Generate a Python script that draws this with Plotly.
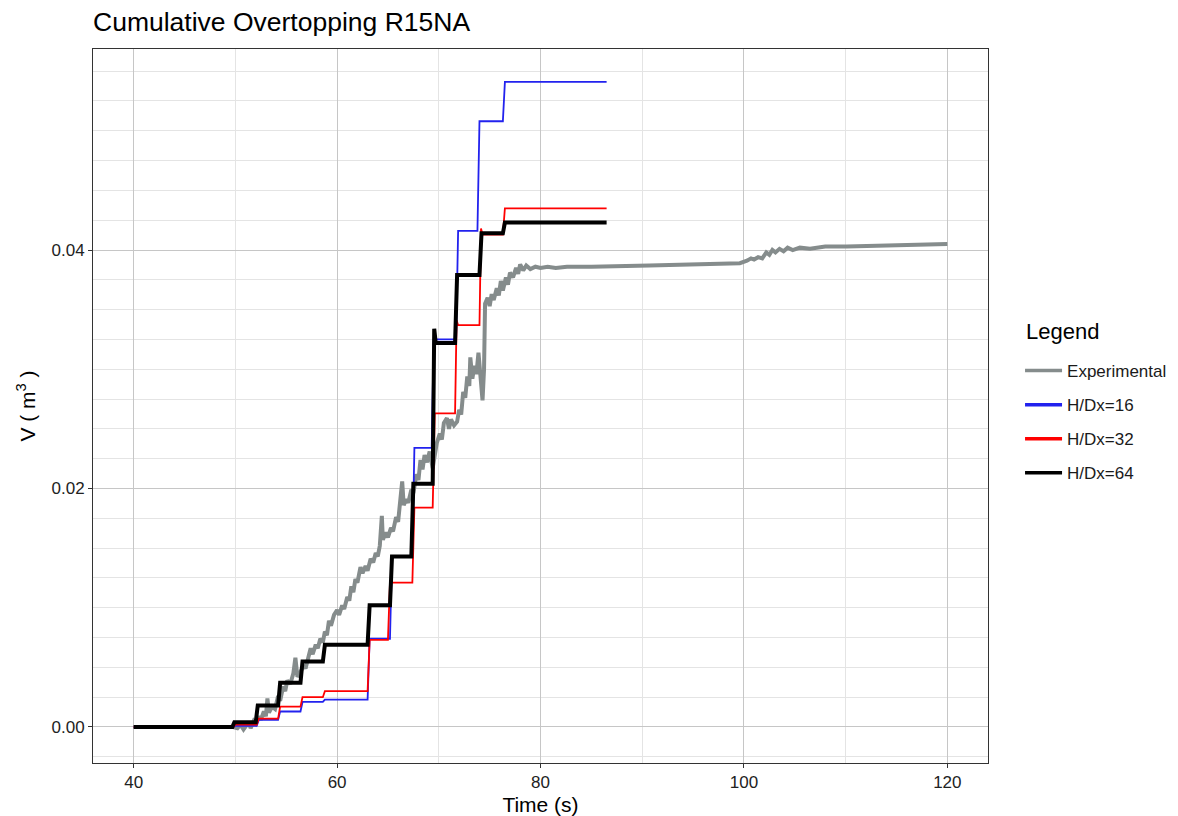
import plotly.graph_objects as go

# ---- Experimental cumulative overtopping volume ----
t_exp = [40.0, 45.0, 49.8, 50.2, 50.5, 50.8, 51.0, 51.3, 51.5, 51.8, 52.0, 52.3, 52.5, 52.8, 53.0,
         53.15, 53.3, 53.6, 53.9, 54.2, 54.4, 54.7, 54.9, 55.1, 55.4, 55.7, 55.9, 56.1, 56.4, 56.7,
         56.9, 57.2, 57.4, 57.6, 57.9, 58.1, 58.35, 58.6, 58.8, 59.0, 59.2, 59.4, 59.7, 60.0, 60.2,
         60.5, 60.7, 61.0, 61.2, 61.4, 61.6, 61.8, 62.0, 62.3, 62.5, 62.8, 63.0, 63.3, 63.55, 63.8,
         64.0, 64.2, 64.4, 64.5, 64.8, 65.0, 65.3, 65.5, 65.8, 66.0, 66.2, 66.4, 66.55, 66.8, 67.0,
         67.3, 67.5, 67.8, 68.0, 68.2, 68.4, 68.6, 68.85, 69.1, 69.4, 69.6, 69.8, 70.1, 70.3, 70.5,
         70.8, 71.0, 71.2, 71.5, 71.8, 72.0, 72.2, 72.4, 72.6, 72.8, 73.0, 73.1, 73.3, 73.5, 73.7,
         73.9, 74.1, 74.3, 74.45, 74.55, 74.8, 75.0, 75.2, 75.4, 75.7, 75.9, 76.1, 76.3, 76.6, 76.8,
         77.0, 77.3, 77.6, 77.8, 78.0, 78.3, 78.6, 79.0, 79.5, 80.0, 80.7, 81.5, 82.6, 85.0, 90.7,
         95.0, 99.6, 100.3, 100.7, 101.0, 101.4, 101.8, 102.2, 102.5, 102.8, 103.1, 103.5, 103.9,
         104.3, 104.8, 105.5, 106.5, 108.0, 110.1, 115.0, 120.0]
v_exp = [0.0, 0.0, 0.0, -0.0001, 0.0002, -0.0002, 0.0001, 0.0004, -0.0001, 0.0005, 0.0003, 0.0009,
         0.0006, 0.0013, 0.0009, 0.0024, 0.0012, 0.0017, 0.0015, 0.0026, 0.0022, 0.0034, 0.0030,
         0.0039, 0.0036, 0.0045, 0.0058, 0.0042, 0.0046, 0.0052, 0.0049, 0.0060, 0.0066, 0.0061,
         0.0069, 0.0066, 0.0074, 0.0071, 0.0080, 0.0077, 0.0089, 0.0085, 0.0094, 0.0098, 0.0094,
         0.0102, 0.0099, 0.0109, 0.0106, 0.0118, 0.0113, 0.0124, 0.0121, 0.0134, 0.0129, 0.0135,
         0.0131, 0.0141, 0.0138, 0.0146, 0.0143, 0.0152, 0.0177, 0.0157, 0.0163, 0.0159, 0.0167,
         0.0164, 0.0176, 0.0172, 0.0186, 0.0206, 0.0186, 0.0191, 0.0188, 0.0199, 0.0196, 0.0212,
         0.0207, 0.0224, 0.0216, 0.0228, 0.0222, 0.0231, 0.0217, 0.0229, 0.0238, 0.0246, 0.0241,
         0.0255, 0.0259, 0.0250, 0.0258, 0.0253, 0.0256, 0.0266, 0.0262, 0.0281, 0.0276, 0.0294,
         0.0286, 0.0310, 0.0292, 0.0303, 0.0296, 0.0314, 0.0290, 0.0274, 0.0300, 0.0355, 0.0360,
         0.0353, 0.0363, 0.0358, 0.0368, 0.0362, 0.0374, 0.0366, 0.0377, 0.0371, 0.0381, 0.0377,
         0.0385, 0.0380, 0.0388, 0.0383, 0.0387, 0.0384, 0.0386, 0.0385, 0.0386, 0.0385, 0.0386,
         0.0386, 0.0387, 0.0388, 0.0389, 0.0391, 0.0393, 0.0392, 0.0394, 0.0393, 0.0398, 0.0396,
         0.0400, 0.0398, 0.0401, 0.0399, 0.0402, 0.0400, 0.0402, 0.0401, 0.0403, 0.0403, 0.0404,
         0.0405]

# ---- Numerical runs (H/Dx = 16, 32, 64) ----
t_16 = [40.0, 49.8, 50.0, 52.1, 52.3, 54.2, 54.4, 56.4, 56.6, 58.6, 58.8, 63.0, 63.2, 65.2, 65.4,
        67.4, 67.6, 69.3, 69.5, 71.7, 71.9, 73.8, 74.0, 76.3, 76.5, 86.5]
v_16 = [0.0, 0.0, 0.0001, 0.0001, 0.0006, 0.0006, 0.0013, 0.0013, 0.0021, 0.0021, 0.0023, 0.0023,
        0.0074, 0.0074, 0.0143, 0.0143, 0.0234, 0.0234, 0.0325, 0.0325, 0.0416, 0.0416, 0.0508,
        0.0508, 0.0541, 0.0541]

t_32 = [40.0, 49.8, 50.0, 52.1, 52.3, 54.2, 54.4, 56.4, 56.6, 58.6, 58.8, 63.0, 63.2, 65.0, 65.2,
        67.4, 67.6, 69.4, 69.6, 71.6, 71.75, 71.9, 74.0, 74.15, 74.3, 76.3, 76.5, 86.5]
v_32 = [0.0, 0.0, 0.0002, 0.0002, 0.0007, 0.0007, 0.0017, 0.0017, 0.0025, 0.0025, 0.0030, 0.0030,
        0.0073, 0.0073, 0.0121, 0.0121, 0.0184, 0.0184, 0.0263, 0.0263, 0.0341, 0.0337, 0.0337,
        0.0418, 0.0413, 0.0413, 0.0435, 0.0435]

t_64 = [40.0, 49.7, 49.9, 52.0, 52.2, 54.2, 54.4, 56.4, 56.6, 58.6, 58.8, 63.0, 63.2, 65.2, 65.4,
        67.3, 67.5, 69.4, 69.55, 69.7, 71.6, 71.8, 74.0, 74.2, 76.3, 76.5, 86.5]
v_64 = [0.0, 0.0, 0.0004, 0.0004, 0.0018, 0.0018, 0.0037, 0.0037, 0.0055, 0.0055, 0.0069, 0.0069,
        0.0102, 0.0102, 0.0143, 0.0143, 0.0204, 0.0204, 0.0334, 0.0322, 0.0322, 0.0379, 0.0379,
        0.0414, 0.0414, 0.0423, 0.0423]

series = [
    ("Experimental", t_exp, v_exp, "#858c8c", 4.0),
    ("H/Dx=16", t_16, v_16, "#2222ee", 1.8),
    ("H/Dx=32", t_32, v_32, "#ff0000", 1.8),
    ("H/Dx=64", t_64, v_64, "#000000", 4.0),
]

FONT = "Liberation Sans, Arial, Helvetica, sans-serif"

fig = go.Figure()
for name, t, v, color, width in series:
    fig.add_trace(go.Scatter(x=t, y=v, mode="lines", name=name, showlegend=False,
                             line=dict(color=color, width=width)))
# legend keys drawn with a uniform thickness
for name, t, v, color, width in series:
    fig.add_trace(go.Scatter(x=[None], y=[None], mode="lines", name=name, legendgroup=name,
                             line=dict(color=color, width=3.5)))

fig.update_layout(
    width=1178, height=816,
    margin=dict(l=93, r=190, t=49, b=53, autoexpand=False),
    paper_bgcolor="white", plot_bgcolor="white",
    font=dict(family=FONT, size=17, color="#1a1a1a"),
    title=dict(text="Cumulative Overtopping R15NA", x=93 / 1178, xanchor="left",
               y=1 - 22 / 816, yanchor="middle", font=dict(size=26.5, color="#000000")),
    legend=dict(x=1.0358, xanchor="left", y=0.4776, yanchor="middle",
                tracegroupgap=9, itemwidth=37,
                font=dict(size=17, color="#1a1a1a"), bgcolor="rgba(0,0,0,0)"),
    annotations=[dict(text="Legend", xref="paper", yref="paper", x=1.0402, y=0.605,
                      xanchor="left", yanchor="middle", showarrow=False,
                      font=dict(size=22, color="#000000"))],
)

fig.update_xaxes(
    range=[36, 124], tickvals=[40, 60, 80, 100, 120], ticks="outside", ticklen=4,
    tickcolor="#333333", showline=True, linecolor="#333333", linewidth=1, mirror=True,
    showgrid=True, gridcolor="#c6c6c6", gridwidth=1, zeroline=False, automargin=False,
    minor=dict(dtick=10, tick0=0, showgrid=True, gridcolor="#e4e4e4", gridwidth=1),
    title=dict(text="Time (s)", font=dict(size=21, color="#000000"), standoff=8),
    tickfont=dict(size=17, color="#222222"),
)
fig.update_yaxes(
    range=[-0.00302, 0.05686], tickvals=[0.0, 0.02, 0.04], tickformat=".2f", ticks="outside",
    ticklen=4, tickcolor="#333333", showline=True, linecolor="#333333", linewidth=1, mirror=True,
    showgrid=True, gridcolor="#c6c6c6", gridwidth=1, zeroline=False, automargin=False,
    minor=dict(dtick=0.0025, tick0=0, showgrid=True, gridcolor="#e4e4e4", gridwidth=1),
    title=dict(text="V ( m<sup>3</sup> )", font=dict(size=21, color="#000000"), standoff=10),
    tickfont=dict(size=17, color="#222222"),
)

fig.write_html("out.html")
